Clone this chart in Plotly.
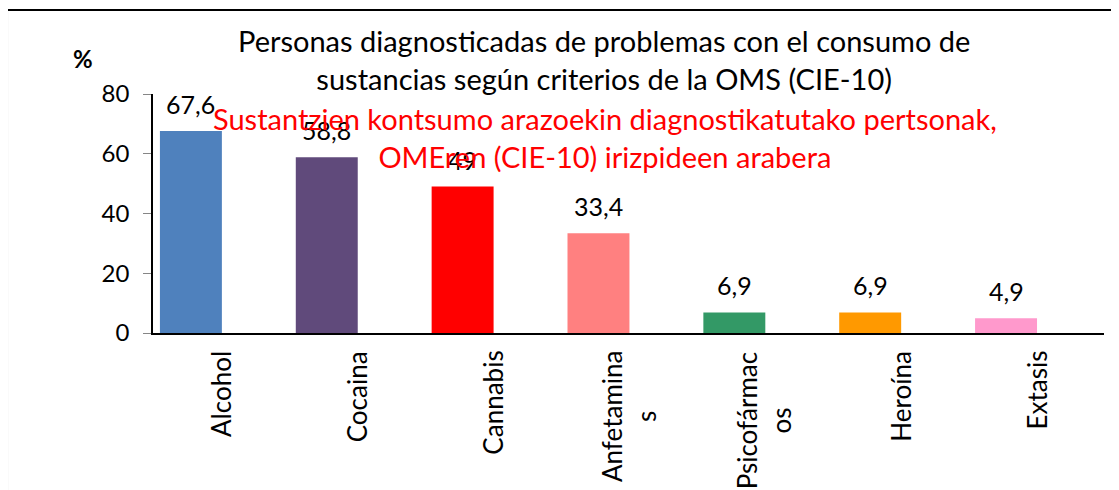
import plotly.graph_objects as go

categorias = ["Alcohol", "Cocaina", "Cannabis", "Anfetaminas", "Psicofármacos", "Heroína", "Extasis"]
etiquetas_x = ["Alcohol", "Cocaina", "Cannabis", "Anfetamina<br>s", "Psicofármac<br>os", "Heroína", "Extasis"]
valores = [67.6, 58.8, 49, 33.4, 6.9, 6.9, 4.9]
etiquetas_valor = ["67,6", "58,8", "49", "33,4", "6,9", "6,9", "4,9"]
colores = ["#4F81BD", "#604A7B", "#FF0000", "#FF8080", "#339966", "#FF9900", "#FF99CC"]

titulo_es = "Personas diagnosticadas de problemas con el consumo de<br>sustancias según criterios de la OMS (CIE-10)"
titulo_eu = "Sustantzien kontsumo arazoekin diagnostikatutako pertsonak,<br>OMEren (CIE-10) irizpideen arabera"

fuente = "Lato"

fig = go.Figure()

# barras desplazadas a la izquierda dentro de cada categoría (como en Excel con serie agrupada)
fig.add_trace(go.Bar(
    x=categorias,
    y=valores,
    width=0.456,
    offset=-0.449,
    marker=dict(color=colores, line=dict(width=0)),
    hoverinfo="skip",
))

# el body de la página tiene 8px de margen, se descuenta aquí
fig.update_layout(
    width=1111,
    height=482,
    plot_bgcolor="white",
    paper_bgcolor="white",
    showlegend=False,
    margin=dict(l=145, r=15, t=86, b=157),
    font=dict(family=fuente, size=24, color="black"),
)

fig.update_yaxes(
    range=[0, 80],
    dtick=20,
    showgrid=False,
    zeroline=False,
    showline=True,
    linecolor="black",
    linewidth=1.5,
    ticks="outside",
    ticklen=8,
    tickcolor="#868686",
    ticklabelstandoff=9,
    tickfont=dict(family=fuente, size=24, color="black"),
)

fig.update_xaxes(
    range=[-0.5, 6.5],
    showgrid=False,
    showline=True,
    linecolor="black",
    linewidth=1.5,
    ticks="",
    showticklabels=False,
)

# Etiquetas de valor sobre las barras
for cat, val, txt in zip(categorias, valores, etiquetas_valor):
    fig.add_annotation(x=cat, y=val, text=txt, showarrow=False, yanchor="middle",
                       xshift=-30, yshift=27,
                       font=dict(family=fuente, size=25, color="black"))

# Etiquetas del eje x giradas
for cat, txt in zip(categorias, etiquetas_x):
    fig.add_annotation(x=cat, y=0, text=txt, showarrow=False, textangle=-90,
                       xanchor="center", yanchor="top", yshift=-16,
                       font=dict(family=fuente, size=26, color="black"))

# Títulos
fig.add_annotation(xref="paper", yref="paper", x=0.474, y=1.144, text=titulo_es, showarrow=False,
                   xanchor="center", yanchor="middle", font=dict(family=fuente, size=29, color="black"))
fig.add_annotation(xref="paper", yref="paper", x=0.475, y=0.818, text=titulo_eu, showarrow=False,
                   xanchor="center", yanchor="middle", font=dict(family=fuente, size=29, color="#FF0000"))

fig.add_annotation(xref="paper", yref="paper", x=-0.0736, y=1.1506, text="<b>%</b>", showarrow=False,
                   xanchor="center", yanchor="middle", font=dict(family=fuente, size=24, color="black"))

# Marco del gráfico
fig.add_shape(type="rect", xref="paper", yref="paper", x0=-0.1535, y0=-0.8, x1=1.05, y1=1.3515,
              line=dict(color="black", width=2), fillcolor="rgba(0,0,0,0)", layer="below")

fig.write_html("out.html")
